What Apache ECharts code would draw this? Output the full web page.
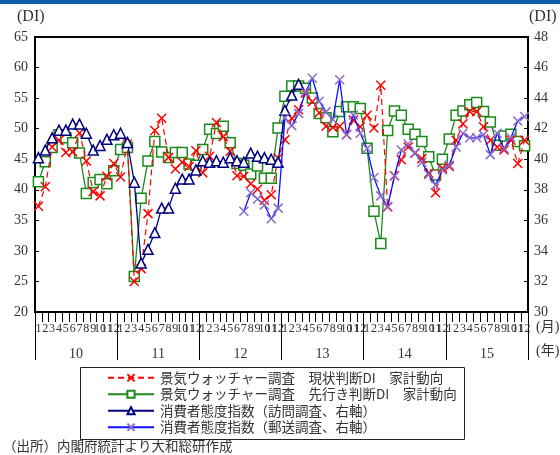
<!DOCTYPE html>
<html>
<head>
<meta charset="utf-8">
<script src="https://cdn.jsdelivr.net/npm/echarts@6/dist/echarts.min.js"></script>
<style>
  html, body { margin: 0; padding: 0; background: #fff; }
  #chart { width: 560px; height: 455px; }
</style>
</head>
<body>
<div id="chart"></div>
<script>
// 月ラベル（2010年1月〜2015年12月）
const monthLabels = [];
for (let y = 0; y < 6; y++) for (let m = 1; m <= 12; m++) monthLabels.push(String(m));
const yearLabels = ['10', '11', '12', '13', '14', '15'];

// 景気ウォッチャー調査 現状判断DI 家計動向（左軸）
const genjoDI = [
  37.3, 40.5, 47.0, 48.1, 46.1, 46.2, 49.3, 44.7, 39.7, 39.0, 42.2, 44.3,
  42.1, 47.5, 25.0, 27.1, 36.1, 49.7, 51.7, 45.3, 43.4, 44.5, 43.8, 46.4,
  42.8, 45.5, 51.0, 48.7, 46.3, 42.3, 42.2, 41.0, 40.1, 38.3, 39.2, 45.2,
  48.2, 51.7, 53.1, 55.8, 54.4, 52.6, 50.4, 50.2, 50.4, 49.0, 51.4, 50.3,
  52.2, 50.1, 57.1, 37.2, 42.3, 44.9, 47.0, 46.0, 45.1, 42.7, 39.5, 43.5,
  43.8, 48.1, 50.8, 52.8, 52.8, 50.3, 48.1, 47.0, 46.5, 48.1, 44.3, 48.1
];

// 景気ウォッチャー調査 先行き判断DI 家計動向（左軸）
const sakiDI = [
  41.3, 44.6, 46.9, 49.0, 48.5, 47.7, 46.0, 39.4, 41.2, 41.7, 41.0, 43.1,
  46.6, 46.9, 25.8, 38.6, 44.7, 47.9, 46.2, 45.3, 46.1, 46.1, 44.2, 44.0,
  46.6, 49.9, 49.2, 50.4, 47.7, 44.3, 44.0, 42.6, 43.9, 41.9, 41.9, 50.1,
  55.3, 57.0, 57.0, 56.6, 55.0, 52.5, 51.8, 49.5, 52.8, 53.6, 53.6, 53.3,
  46.8, 36.5, 31.2, 49.7, 52.9, 52.2, 49.9, 49.1, 47.9, 45.4, 42.4, 45.0,
  48.3, 52.2, 52.9, 53.9, 54.3, 52.8, 51.1, 47.3, 48.8, 49.1, 47.9, 47.2
];

// 消費者態度指数（訪問調査、右軸）：2013年3月まで
const homonCCI = [
  40.1, 40.6, 41.4, 41.9, 41.9, 42.3, 42.3, 41.7, 40.6, 40.9, 41.3, 41.6,
  41.7, 41.1, 38.5, 33.2, 34.1, 35.2, 36.8, 36.8, 38.1, 38.7, 38.7, 39.3,
  39.9, 39.8, 39.9, 39.8, 40.1, 39.9, 39.8, 40.4, 40.2, 40.1, 40.0, 39.8,
  43.2, 44.2, 44.9
];

// 消費者態度指数（郵送調査、右軸）：2012年7月から
const yusoStart = 30;
const yusoCCI = [
  36.6, 37.8, 37.4, 37.0, 36.1, 36.8,
  42.7, 42.2, 43.0, 44.4, 45.3, 43.8, 43.1, 42.6, 45.2, 41.6, 42.9, 41.7,
  40.7, 38.8, 37.6, 36.9, 38.9, 40.6, 41.0, 40.4, 39.8, 39.0, 38.3, 39.3,
  39.6, 40.8, 41.7, 41.4, 41.4, 41.6, 40.3, 41.7, 40.7, 41.4, 42.5, 42.8
];

const pad = (arr, start) => {
  const out = new Array(monthLabels.length).fill(null);
  arr.forEach((v, i) => { out[start + i] = v; });
  return out;
};

const FONT = "'Liberation Serif', 'Noto Sans CJK JP', serif";
const JFONT = "'Noto Sans CJK JP', 'Liberation Serif', sans-serif";
const crossPath = 'path://M0,0L10,10M10,0L0,10';

const chart = echarts.init(document.getElementById('chart'), null, { renderer: 'canvas' });

chart.setOption({
  animation: false,
  backgroundColor: '#fff',
  grid: {
    left: 35, right: 32, top: 37, bottom: 143,
    show: true, borderColor: '#000', borderWidth: 2
  },
  xAxis: [
    {
      type: 'category',
      data: monthLabels,
      boundaryGap: true,
      position: 'bottom',
      axisLine: { show: true, lineStyle: { color: '#000', width: 2 } },
      axisTick: { show: true, interval: 0, length: 10, lineStyle: { color: '#000', width: 1 } },
      axisLabel: { interval: 0, margin: 11, fontSize: 12, color: '#333', fontFamily: FONT },
      splitLine: { show: false }
    },
    {
      type: 'category',
      data: yearLabels,
      boundaryGap: true,
      position: 'bottom',
      axisLine: { show: false },
      axisTick: { show: true, interval: 0, length: 48, lineStyle: { color: '#000', width: 1 } },
      axisLabel: { interval: 0, margin: 35, fontSize: 14, color: '#333', fontFamily: FONT },
      splitLine: { show: false }
    }
  ],
  yAxis: [
    {
      type: 'value', min: 20, max: 65, interval: 5, position: 'left',
      axisLine: { show: true, lineStyle: { color: '#000', width: 2 } },
      axisTick: { show: true, inside: true, length: 4, lineStyle: { color: '#000' } },
      axisLabel: { margin: 7, fontSize: 14, color: '#333', fontFamily: FONT },
      splitLine: { show: false }
    },
    {
      type: 'value', min: 30, max: 48, interval: 2, position: 'right',
      axisLine: { show: true, lineStyle: { color: '#000', width: 2 } },
      axisTick: { show: true, inside: true, length: 4, lineStyle: { color: '#000' } },
      axisLabel: { margin: 6, fontSize: 14, color: '#333', fontFamily: FONT },
      splitLine: { show: false }
    }
  ],
  legend: {
    orient: 'vertical',
    left: 107, top: 371,
    itemWidth: 46, itemHeight: 9, itemGap: 3,
    padding: 0,
    textStyle: { fontSize: 13.5, color: '#333', fontFamily: JFONT, padding: [0, 0, 0, 1] },
    data: [
      '景気ウォッチャー調査　現状判断DI　家計動向',
      '景気ウォッチャー調査　先行き判断DI　家計動向',
      '消費者態度指数（訪問調査、右軸）',
      '消費者態度指数（郵送調査、右軸）'
    ]
  },
  graphic: [
    { type: 'rect', left: 0, top: 0, shape: { width: 560, height: 4 }, style: { fill: '#0d5ea8' } },
    { type: 'text', left: 17, top: 9, style: { text: '(DI)', fill: '#333', font: "16px " + FONT } },
    { type: 'text', left: 529, top: 9, style: { text: '(DI)', fill: '#333', font: "16px " + FONT } },
    { type: 'text', left: 536, top: 320, style: { text: '(月)', fill: '#333', font: "14px " + FONT } },
    { type: 'text', left: 536, top: 344, style: { text: '(年)', fill: '#333', font: "14px " + FONT } },
    { type: 'rect', left: 78, top: 365, shape: { width: 384, height: 72 },
      style: { fill: 'none', stroke: '#222', lineWidth: 1 } },
    { type: 'text', left: 3, top: 439, style: { text: '（出所）内閣府統計より大和総研作成', fill: '#333', font: "13.5px " + JFONT } }
  ],
  series: [
    {
      name: '景気ウォッチャー調査　現状判断DI　家計動向',
      type: 'line', xAxisIndex: 0, yAxisIndex: 0,
      data: genjoDI,
      symbol: crossPath, symbolSize: 9,
      lineStyle: { color: '#ff0000', width: 1.2, type: [6, 4] },
      itemStyle: { color: 'rgba(0,0,0,0)', borderColor: '#ff0000', borderWidth: 1.5 },
      z: 4
    },
    {
      name: '景気ウォッチャー調査　先行き判断DI　家計動向',
      type: 'line', xAxisIndex: 0, yAxisIndex: 0,
      data: sakiDI,
      symbol: 'rect', symbolSize: 10,
      lineStyle: { color: '#1a8a1a', width: 1.3 },
      itemStyle: { color: '#fff', borderColor: '#1a8a1a', borderWidth: 1.5 },
      z: 3
    },
    {
      name: '消費者態度指数（訪問調査、右軸）',
      type: 'line', xAxisIndex: 0, yAxisIndex: 1,
      data: pad(homonCCI, 0),
      connectNulls: false,
      symbol: 'triangle', symbolSize: 10,
      lineStyle: { color: '#00007f', width: 1.3 },
      itemStyle: { color: '#fff', borderColor: '#00007f', borderWidth: 1.5 },
      z: 5
    },
    {
      name: '消費者態度指数（郵送調査、右軸）',
      type: 'line', xAxisIndex: 0, yAxisIndex: 1,
      data: pad(yusoCCI, yusoStart),
      connectNulls: false,
      symbol: crossPath, symbolSize: 9,
      lineStyle: { color: '#1010ff', width: 1.3 },
      itemStyle: { color: 'rgba(0,0,0,0)', borderColor: '#8a6cc8', borderWidth: 1.5 },
      z: 6
    }
  ]
});
</script>
</body>
</html>
